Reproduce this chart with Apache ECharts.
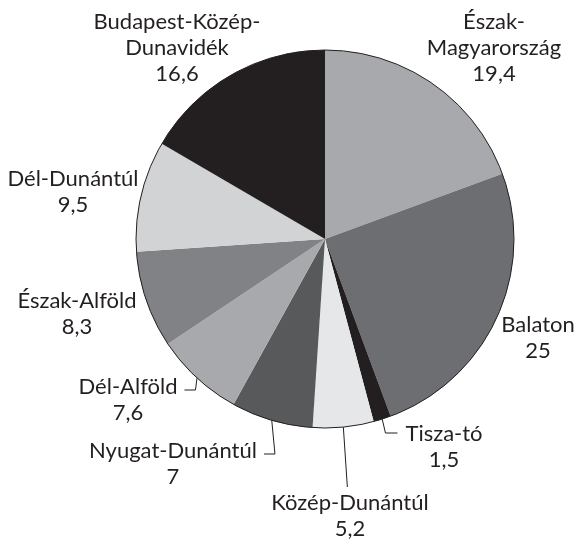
<!DOCTYPE html>
<html>
<head>
<meta charset="utf-8">
<script src="https://cdn.jsdelivr.net/npm/echarts@6/dist/echarts.min.js"></script>
<style>
  html, body { margin: 0; padding: 0; background: #fff; }
  #main { width: 576px; height: 541px; }
</style>
</head>
<body>
<div id="main"></div>
<script>
// adatok (óramutató járásával egyezően, felülről)
var regions = ['Észak-Magyarország', 'Balaton', 'Tisza-tó', 'Közép-Dunántúl', 'Nyugat-Dunántúl',
               'Dél-Alföld', 'Észak-Alföld', 'Dél-Dunántúl', 'Budapest-Közép-Dunavidék'];
var shares = [19.4, 25, 1.5, 5.2, 7, 7.6, 8.3, 9.5, 16.6];
var labelTexts = ['Észak-\nMagyarország', 'Balaton', 'Tisza-tó', 'Közép-Dunántúl', 'Nyugat-Dunántúl',
                  'Dél-Alföld', 'Észak-Alföld', 'Dél-Dunántúl', 'Budapest-Közép-\nDunavidék'];
var colors = ['#a7a9ac', '#6d6e71', '#231f20', '#e6e7e8', '#58595b',
              '#a7a9ac', '#808285', '#d1d3d4', '#231f20'];

// címkék helye (a szövegblokk közepe) és a vezetővonal iránya
var labelPos = [[494, 48], [538, 338], [444, 447], [350, 516], [173, 464],
                [128, 400], [77, 314], [73, 192], [177, 48]];
var leader = [null, null, 'right', 'below', 'left', 'left', null, null, null];

var ink = '#231f20';
var myChart = echarts.init(document.getElementById('main'));

var pieData = regions.map(function (name, i) {
  return {
    name: name,
    value: shares[i],
    itemStyle: { color: colors[i] },
    labelLine: { show: leader[i] != null }
  };
});

myChart.setOption({
  animation: false,
  series: [
    {
      type: 'pie',
      center: [325, 239],
      radius: 189,
      startAngle: 90,
      clockwise: true,
      avoidLabelOverlap: false,
      data: pieData,
      itemStyle: { borderWidth: 0 },
      label: {
        show: true,
        position: 'outside',
        color: ink,
        fontFamily: 'Lato, sans-serif',
        fontSize: 22,
        lineHeight: 26,
        align: 'center',
        formatter: function (p) {
          return labelTexts[p.dataIndex] + '\n' + String(p.value).replace('.', ',');
        }
      },
      labelLine: {
        show: true,
        length: 10,
        length2: 10,
        lineStyle: { color: ink, width: 1 }
      },
      labelLayout: function (p) {
        var i = p.dataIndex;
        var pos = labelPos[i];
        var w = p.labelRect.width, h = p.labelRect.height;
        var out = { x: pos[0], y: pos[1], align: 'center', verticalAlign: 'middle' };
        var kind = leader[i];
        if (kind && p.labelLinePoints) {
          var e = p.labelLinePoints[0];
          var top = pos[1] - h / 2;
          var mid = top + 13;
          if (kind === 'left') {
            var ex = pos[0] + w / 2 + 7;
            out.labelLinePoints = [e, [ex + 11, mid + 3], [ex, mid + 3]];
          } else if (kind === 'right') {
            var lx = pos[0] - w / 2 - 8;
            out.labelLinePoints = [e, [lx - 12, mid - 1], [lx, mid - 1]];
          } else {
            out.labelLinePoints = [e, [e[0] + 4, top - 3], [e[0] + 4, top - 3]];
          }
        }
        return out;
      },
      emphasis: { disabled: true }
    },
    {
      // külső körvonal
      type: 'pie',
      center: [325, 239],
      radius: 189,
      silent: true,
      data: [{ value: 1, name: 'outline' }],
      itemStyle: { color: 'rgba(0,0,0,0)', borderColor: ink, borderWidth: 1 },
      label: { show: false },
      labelLine: { show: false },
      emphasis: { disabled: true }
    }
  ]
});
</script>
</body>
</html>
